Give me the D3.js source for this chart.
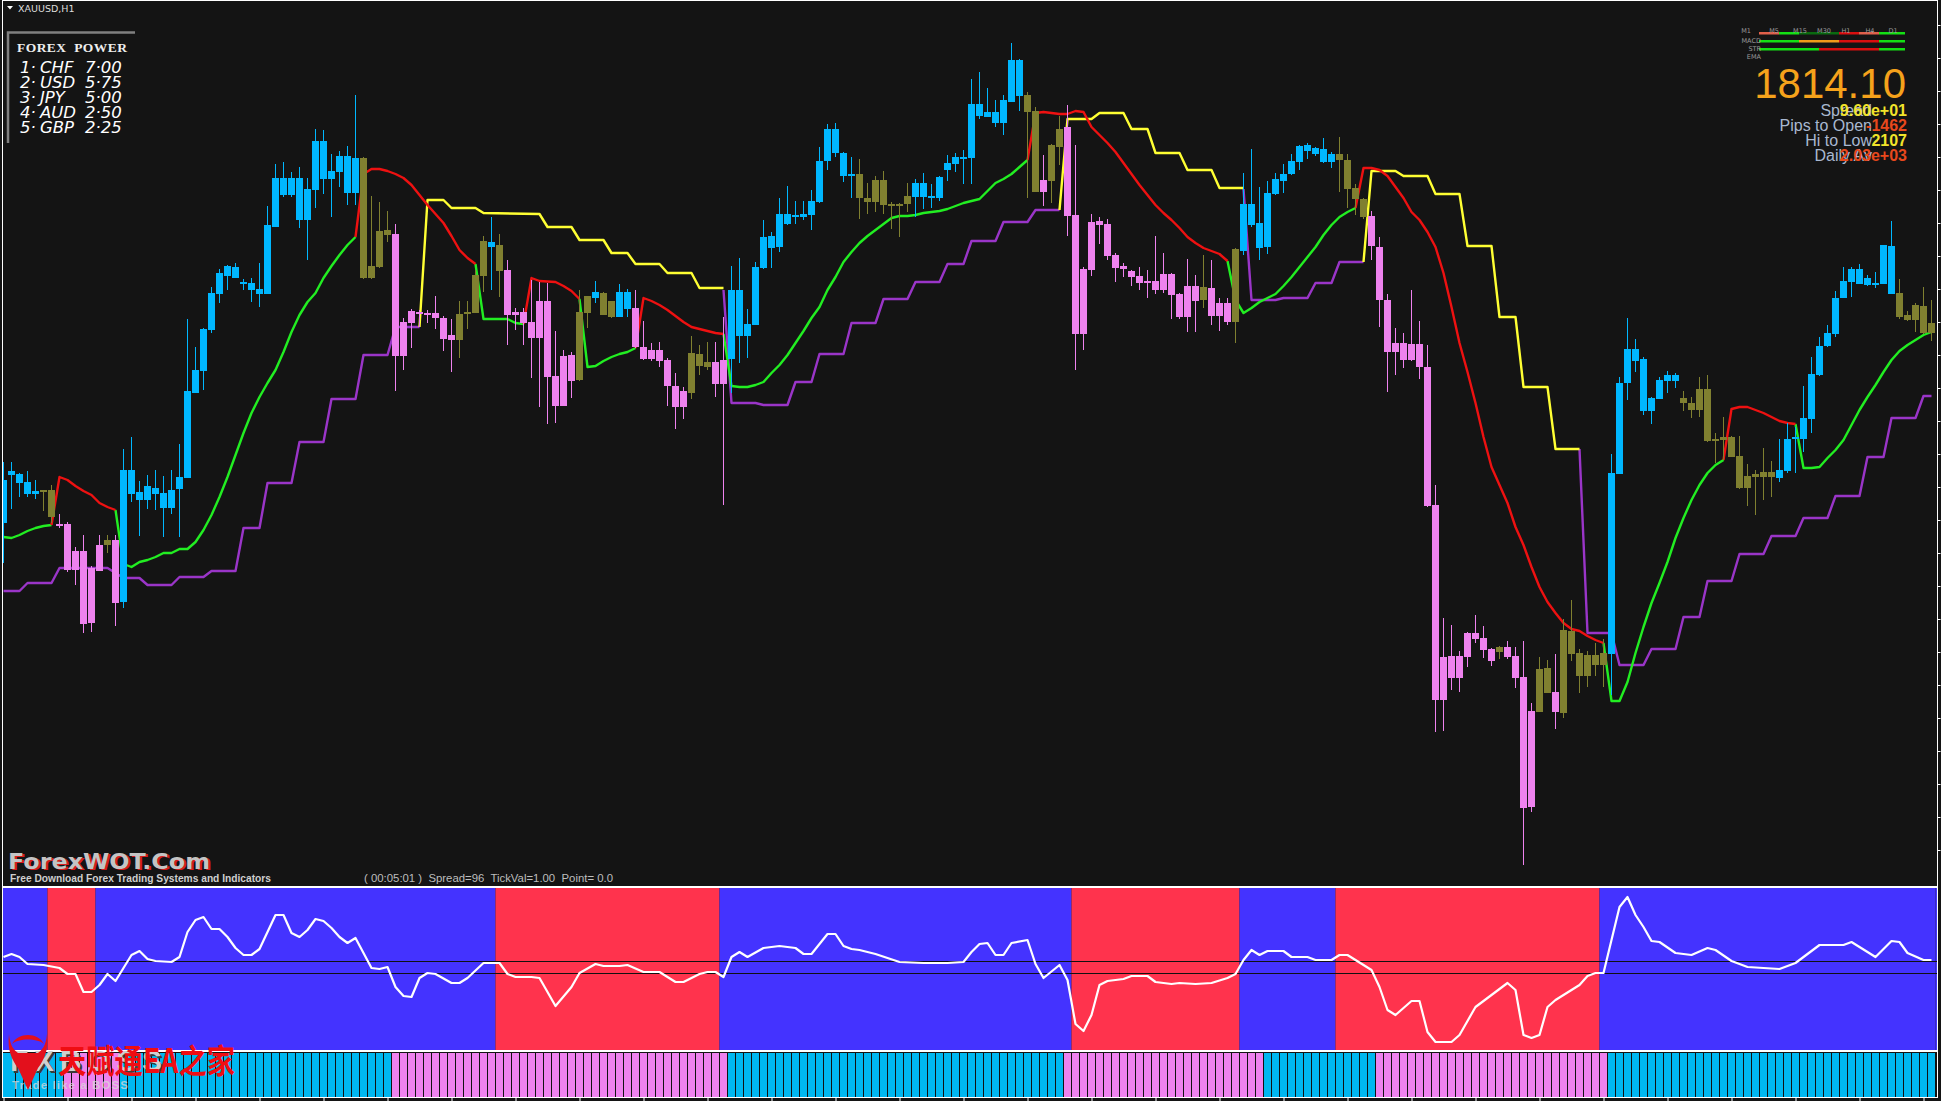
<!DOCTYPE html>
<html lang="en">
<head>
<meta charset="UTF-8">
<title>XAUUSD,H1</title>
<script src="https://d3js.org/d3.v7.min.js"></script>
<style>
  html, body { margin: 0; padding: 0; background: #141414; overflow: hidden; }
  svg { display: block; }
  .sans { font-family: "Liberation Sans", Arial, sans-serif; }
</style>
</head>
<body>
<div id="chart"></div>
<script>
// candle prices, one value per hourly bar
const bodyTop = [
1799,1799.9,1799.6,1798.8,1797.9,1798,1798,1794.6,1794.6,1791.9,
1791.9,1790.2,1792.5,1793,1793,1800,1800,1797.8,1798.4,1798.2,
1797.7,1798,1799.3,1807.9,1810,1814.1,1817.7,1819.7,1820.4,1820.3,
1818.8,1818.7,1818.1,1824.5,1829.2,1829.2,1829.2,1829.2,1828.1,1832.9,
1832.9,1829.9,1831.4,1831.4,1831.2,1831.2,1820.4,1823.9,1824,1823.6,
1814.8,1815.9,1815.8,1815.7,1815.7,1815.2,1813.5,1815.6,1815.8,1819.5,
1822.9,1822.8,1822.5,1820,1815.8,1815.8,1814.8,1816.9,1816.9,1809.4,
1811.4,1811.5,1815.8,1817.4,1817.8,1817.7,1816.9,1817.8,1817.8,1816.2,
1812.3,1812,1812,1811,1808.4,1807.9,1811.7,1811.6,1810.8,1810.8,
1811,1818,1818,1814.6,1820.3,1823.3,1823.4,1825.6,1825.6,1825.5,
1825.6,1826.9,1830.9,1834.1,1834.1,1831.7,1829.6,1829.6,1827.2,1829,
1829,1826.6,1826.6,1827.4,1828.7,1828.7,1827.4,1829.3,1830.7,1831.3,
1831.3,1836.6,1836.6,1835.8,1835.8,1837,1841,1841,1837.5,1835.9,
1829,1832.5,1834.1,1834.3,1825.5,1820.1,1824.8,1824.9,1824.6,1821.5,
1820.4,1819.9,1819.4,1818.9,1818.9,1819.6,1819.6,1817.6,1818.4,1818.4,
1818.3,1818.2,1816.7,1816.7,1822.1,1826.6,1826.6,1824.7,1827.7,1829.1,
1829.6,1830.9,1832.4,1832.5,1832.2,1832.1,1831.6,1831.6,1831,1828.2,
1827.1,1825.4,1822.3,1817,1812.7,1812.7,1812.6,1812.6,1810.3,1796.5,
1781.3,1781.4,1781.4,1783.7,1783.7,1783.2,1782.1,1782.3,1782.3,1781.4,
1779.3,1775.9,1780.1,1780.2,1777.8,1784,1783.9,1781.7,1781.5,1781.5,
1781.7,1799.7,1808.7,1812.1,1812.1,1811.1,1807.2,1809,1809.5,1809.5,
1807.2,1806.7,1808.1,1808.1,1803.1,1803.3,1803.3,1801.4,1799.4,1799.6,
1799.8,1799.8,1800,1803.1,1803.3,1805.2,1809.6,1812.4,1813.7,1817.2,
1818.9,1820.1,1820.1,1819.2,1818.7,1822.5,1822.4,1817.7,1815.5,1816.5,
1816.4,1814.7];

const bodyBottom = [
1794.7,1799.5,1798.7,1797.6,1797.6,1797.8,1795.3,1794.5,1790,1790,
1784.6,1784.7,1789.9,1792.5,1786.7,1786.8,1797.6,1797,1797,1797.6,
1796.2,1796.2,1798.1,1799.2,1807.7,1809.9,1814,1817.6,1819.4,1819.2,
1818.6,1818,1817.6,1817.6,1824.3,1827.5,1827.5,1825,1825,1828,
1829.1,1829.1,1829.8,1827.7,1827.7,1819.2,1819.2,1820.3,1823.5,1811.4,
1811.4,1814.7,1815.6,1815.5,1815.2,1813.1,1813,1813,1815.6,1815.7,
1819.4,1822.3,1819.9,1815.5,1815.5,1814.7,1813.2,1813.2,1809.3,1806.4,
1806.4,1808.9,1809,1815.7,1817.2,1815.5,1815.3,1815.3,1816.1,1812.3,
1811.1,1811.1,1810.9,1808.4,1806.3,1806.3,1807.7,1810.4,1810.3,1808.6,
1808.6,1811.1,1813.4,1813.4,1814.5,1820.2,1822.2,1822.3,1824.6,1825.3,
1825.3,1825.5,1826.8,1830.9,1831.7,1829.4,1829.4,1827.2,1826.8,1826.8,
1826.5,1826.5,1826.5,1826.6,1827.3,1827.3,1827.2,1827.2,1830,1830.6,
1831.2,1831.2,1835.4,1835.3,1834.7,1834.7,1836.8,1837.4,1835.8,1827.8,
1827.8,1828.9,1832.3,1825.4,1813.6,1813.6,1820,1824.5,1821.4,1820.2,
1820.1,1819.3,1818.7,1818.8,1818,1818,1817.5,1815.3,1815.3,1816.9,
1817,1815.4,1815.4,1814.8,1814.8,1821.9,1824.5,1822.2,1822.3,1827.6,
1828.9,1829.6,1830.8,1831.9,1831.6,1830.8,1830.8,1831,1828.1,1827.1,
1825.3,1822.4,1817,1811.8,1811.8,1811,1811,1810.3,1796.4,1777,
1777,1779.2,1779.2,1781.3,1783.1,1782,1780.9,1781.8,1781.3,1779.2,
1766.2,1766.3,1775.8,1777.7,1775.8,1775.7,1781.6,1779.4,1779.4,1780.5,
1780.5,1781.6,1799.6,1808.7,1810.9,1805.9,1805.9,1807.1,1808.9,1808.9,
1806.7,1806,1806,1802.9,1802.9,1803,1801.3,1798.2,1798.2,1799.3,
1799.3,1799.3,1799.2,1799.9,1803.1,1803.1,1805.1,1809.5,1812.4,1813.6,
1817.2,1818.8,1818.6,1818.5,1818.6,1818.6,1817.6,1815.3,1815,1815,
1813.7,1813.7];

const wickHigh = [
1800.8,1800.8,1799.7,1799.9,1799,1798,1798.5,1795.6,1794.8,1792.3,
1793.5,1790.4,1793.5,1793.5,1793.5,1802.1,1803.3,1798.9,1799.5,1800,
1799.4,1800,1802.6,1815.1,1812.3,1814.2,1818.3,1820.1,1820.5,1820.7,
1819.1,1819.2,1820.7,1826.4,1830.6,1830.8,1829.8,1830.3,1829.2,1834.1,
1834,1831.6,1831.9,1832.4,1837.5,1831.3,1827.4,1826.8,1825.9,1824.6,
1815.2,1816.1,1816,1816,1817.4,1815.4,1815.1,1816.9,1816.9,1820,
1823.4,1825.3,1823.6,1821,1816.2,1816.2,1819,1818.8,1818.7,1813.9,
1812,1811.8,1818,1817.4,1818.9,1817.8,1816.9,1818.6,1818.1,1818,
1814.9,1812.7,1812.8,1811.2,1809.7,1808.3,1813.4,1812.5,1812.8,1812.8,
1815.3,1820.4,1821.2,1816.1,1820.8,1825,1823.8,1827.2,1828.4,1826.9,
1826.9,1828,1832.3,1834.6,1834.7,1831.8,1831.3,1831.1,1828.7,1829.4,
1829.9,1826.8,1826.7,1828.7,1829.1,1829.7,1828.6,1829.4,1831.5,1831.7,
1832,1839.1,1839.8,1838.2,1837,1837.5,1842.7,1841.1,1837.8,1836.3,
1831.5,1832.6,1835.4,1836.5,1832.5,1820.3,1825.6,1825.3,1825.1,1821.7,
1820.7,1820,1820.3,1820,1823.4,1821.7,1819.7,1817.7,1821.1,1819.5,
1821.5,1821,1817.2,1817.2,1822.2,1829.7,1832.1,1828.3,1828.9,1829.7,
1830.6,1831.6,1832.5,1832.7,1832.3,1833.2,1831.8,1833.3,1831.6,1828.6,
1827.2,1825.9,1823.3,1817.6,1814.2,1813.7,1818,1814.9,1812.5,1798.5,
1785.2,1784.5,1781.9,1783.8,1785.5,1784.4,1782.2,1782.4,1782.9,1782.3,
1782.9,1776.7,1781.3,1781,1781.6,1785.1,1787,1782.1,1781.9,1782.7,
1783.1,1801.6,1809.3,1815.2,1813.1,1811.3,1807.3,1809.3,1809.9,1809.7,
1807.9,1807.3,1809.3,1809.5,1803.7,1805.3,1803.4,1803.4,1800.6,1800,
1802.2,1800.9,1803.1,1804.7,1804.3,1808.4,1811.3,1813.3,1814.5,1817.9,
1820.3,1820.3,1820.6,1819.5,1819.8,1822.5,1824.9,1819.1,1815.9,1816.7,
1818.3,1817];

const wickLow = [
1790.7,1796.1,1797.3,1797.3,1797.1,1795.9,1794.7,1794.2,1789.8,1788.5,
1783.7,1783.8,1789.9,1791.7,1784.4,1786.2,1796.8,1793.4,1796.1,1796,
1793.3,1795.6,1793.3,1799.2,1807.7,1808,1813.7,1816.7,1818,1819.2,
1818,1816.8,1816.3,1817.6,1824.3,1827.3,1827.3,1824.2,1821,1826.2,
1827.6,1825.3,1828.3,1826.5,1826.5,1819.1,1819.1,1820.2,1822.8,1807.9,
1810,1812.2,1814.3,1814.7,1814.1,1811.9,1809.8,1811.2,1814.1,1815.7,
1817.8,1818,1817.3,1812.5,1814,1812.5,1809.2,1806.3,1804.6,1804.7,
1806.4,1807.2,1808.9,1814.2,1816.7,1815.5,1815.2,1815.3,1815.3,1812.2,
1811,1810.9,1810.3,1806.4,1804.1,1805.1,1807.1,1809.5,1810,1807.3,
1796.5,1807.7,1810.7,1811.2,1814.5,1820.1,1820.2,1821.8,1824.5,1824.6,
1825,1824,1826.7,1830,1831.3,1828.8,1827.2,1825.1,1825.6,1825.8,
1825.6,1824.1,1823.3,1825.8,1825.3,1826.1,1826.2,1826.9,1828.9,1829.8,
1828.6,1828.6,1835.1,1835.3,1834.3,1833.5,1836.8,1835.9,1827.2,1827.8,
1826.4,1826.7,1830.5,1823.4,1810,1812,1819.4,1822.6,1821,1818.8,
1819.3,1818.4,1818,1817.2,1817.6,1817.7,1815.1,1815.1,1813.8,1813.8,
1816.2,1814.5,1813.9,1814.5,1812.7,1821.5,1824.3,1821,1821.6,1827.5,
1827.7,1829.5,1830,1831.1,1831.4,1830.7,1830.2,1827.8,1826.2,1825.5,
1825.1,1821,1814.3,1807.8,1809.5,1810.2,1810.9,1809.1,1796.3,1773.8,
1773.9,1778,1777.8,1780.3,1782.7,1781.2,1780.4,1781.1,1781.1,1778.2,
1760.5,1765.8,1775.8,1777.7,1774.1,1775.2,1780.9,1777.7,1778.3,1779.4,
1778.3,1777.5,1799.6,1807,1809.8,1805.5,1804.6,1807.1,1807.7,1808.2,
1805.9,1805.2,1805.3,1802.8,1800.7,1801,1801.3,1798.1,1796.4,1795.5,
1797,1797.3,1798.8,1799.7,1799.7,1801.8,1803.7,1809.4,1812.3,1813.3,
1817.2,1817.3,1818.6,1818.4,1818.2,1818.6,1817.6,1815.1,1814.9,1813.8,
1813.6,1812.9];

// which bar each candle colour starts on
const candleRunStart = [0,5,7,13,14,15,45,49,57,61,62,63,72,74,75,77,79,86,89,91,107,114,128,130,131,133,150,151,154,155,167,171,187,188,192,194,195,201,210,222,237];
const candleRunKind = ["up","flat","down","flat","down","up","flat","down","flat","up","flat","down","flat","up","flat","up","down","flat","down","up","flat","up","flat","down","flat","down","flat","down","flat","up","flat","down","flat","down","flat","down","flat","up","flat","up","flat"];

// moving average, one list per stretch of colour: [bar, price]
const emaUpSegments = [
  [[0,1793.3],[1,1793.2],[2,1793.5],[3,1793.9],[4,1794.2],[5,1794.4],[6,1794.5]],
  [[14,1796],[15,1790.6],[16,1790.3],[17,1790.8],[18,1791],[19,1791.3],[20,1791.7],[21,1791.7],[22,1792.1],[23,1792.1],[24,1792.8],[25,1794],[26,1795.5],[27,1797.3],[28,1799.3],[29,1801.5],[30,1803.7],[31,1805.7],[32,1807.3],[33,1808.7],[34,1810],[35,1811.8],[36,1813.8],[37,1815.5],[38,1816.8],[39,1817.7],[40,1819.2],[41,1820.4],[42,1821.5],[43,1822.5],[44,1823.3]],
  [[59,1820.6],[60,1815.1],[63,1815.1],[64,1814.7],[65,1814.6]],
  [[72,1817.1],[73,1810.3],[74,1810.4],[75,1810.9],[76,1811.3],[77,1811.6],[78,1811.8],[79,1812.2]],
  [[90,1813.6],[91,1808.4],[92,1808.3],[93,1808.3],[94,1808.5],[95,1808.8],[96,1809.7],[97,1810.5],[98,1811.5],[99,1812.7],[100,1813.9],[101,1815.2],[102,1816.3],[103,1818],[104,1819.3],[105,1820.8],[106,1821.8],[107,1822.7],[108,1823.4],[109,1824],[110,1824.6],[111,1825.2],[112,1825.4],[113,1825.4],[114,1825.5],[115,1825.7],[116,1825.8],[117,1825.9],[118,1826.1],[119,1826.4],[120,1826.7],[121,1826.9],[122,1827.1],[123,1827.9],[124,1828.7],[125,1829.1],[126,1829.6],[127,1830.3],[128,1831]],
  [[153,1820.9],[154,1817],[155,1815.7],[156,1816.2],[157,1816.8],[158,1817.2],[159,1817.6],[160,1818.4],[161,1819.3],[162,1820.3],[163,1821.3],[164,1822.3],[165,1823.5],[166,1824.5],[167,1825.3],[168,1825.8],[169,1826.2]],
  [[200,1782.7],[201,1776.9],[202,1776.9],[203,1778.8],[204,1781.7],[205,1784.3],[206,1786.7],[207,1788.7],[208,1790.8],[209,1793.2],[210,1795.2],[211,1797],[212,1798.5],[213,1799.7],[214,1800.5],[215,1801]],
  [[224,1804.6],[225,1800.2],[226,1800.2],[227,1800.3],[228,1801.2],[229,1802],[230,1803],[231,1804.5],[232,1806],[233,1807.3],[234,1808.5],[235,1809.8],[236,1811],[237,1811.9],[238,1812.5],[239,1813],[240,1813.5],[241,1813.8]]
];
const emaDownSegments = [
  [[6,1794.5],[7,1799.3],[8,1799],[9,1798.4],[10,1797.9],[11,1797.5],[12,1796.7],[13,1796.3],[14,1796]],
  [[44,1823.3],[45,1829.6],[46,1830.1],[47,1830.1],[48,1829.9],[49,1829.6],[50,1829.2],[51,1828.5],[52,1827.5],[53,1826.5],[54,1825.6],[55,1824.7],[56,1823.4],[57,1822],[58,1821.2],[59,1820.6]],
  [[65,1814.6],[66,1819.2],[67,1818.9],[69,1818.8],[70,1818.4],[71,1817.9],[72,1817.1]],
  [[79,1812.2],[80,1817.2],[81,1816.9],[82,1816.5],[83,1816],[84,1815.4],[85,1814.8],[86,1814.3],[87,1814.1],[88,1813.9],[89,1813.7],[90,1813.6]],
  [[128,1831],[129,1835.7],[130,1835.8],[131,1835.7],[132,1835.6],[133,1835.6],[134,1835.9],[135,1835.8],[136,1834.3],[137,1833.5],[138,1832.7],[139,1831.8],[140,1830.7],[141,1829.6],[142,1828.5],[143,1827.5],[144,1826.5],[145,1825.7],[146,1825],[147,1824.2],[148,1823.3],[149,1822.7],[150,1822.2],[151,1821.9],[152,1821.6],[153,1820.9]],
  [[169,1826.2],[170,1830.2],[171,1830.2],[172,1830],[173,1829.4],[174,1828.3],[175,1827.2],[176,1825.8],[177,1825],[178,1823.8],[179,1822.3],[180,1819.7],[181,1816.3],[182,1812.7],[183,1809.8],[184,1806.7],[185,1803.3],[186,1800.3],[187,1798.5],[188,1796.7],[189,1794.3],[190,1792.5],[191,1790.3],[192,1788.3],[193,1786.8],[194,1785.7],[195,1784.7],[196,1784.1],[197,1783.9],[198,1783.4],[199,1783],[200,1782.7]],
  [[215,1801],[216,1806.1],[217,1806.3],[218,1806.3],[219,1806],[220,1805.7],[221,1805.3],[222,1804.9],[223,1804.7],[224,1804.6]]
];

// stepped stop line
const stopSupportSegments = [
  [[0,1787.9],[2,1787.9],[3,1788.7],[6,1788.7],[7,1790.2],[13,1790.2],[15,1789.2],[17,1789.2],[18,1788.5],[21,1788.5],[22,1789.3],[25,1789.3],[26,1789.9],[29,1789.9],[30,1794.2],[32,1794.2],[33,1798.7],[36,1798.7],[37,1802.8],[40,1802.8],[41,1807.1],[44,1807.1],[45,1811.5],[48,1811.5],[49,1814.3],[52,1814.3]],
  [[90,1818],[91,1806.7],[94,1806.7],[95,1806.5],[98,1806.5],[99,1808.8],[101,1808.8],[102,1811.6],[105,1811.6],[106,1814.7],[109,1814.7],[110,1817.1],[113,1817.1],[114,1818.8],[117,1818.8],[118,1820.6],[120,1820.6],[121,1822.9],[124,1822.9],[125,1824.8],[128,1824.8],[129,1826],[132,1826]],
  [[155,1828.1],[156,1817],[159,1817],[160,1817.2],[163,1817.2],[164,1818.7],[166,1818.7],[167,1820.8],[170,1820.8]],
  [[197,1802.1],[198,1783.7],[201,1783.7],[202,1780.5],[205,1780.5],[206,1782.1],[209,1782.1],[210,1785.3],[212,1785.3],[213,1788.9],[216,1788.9],[217,1791.6],[220,1791.6],[221,1793.4],[224,1793.4],[225,1795.2],[228,1795.2],[229,1797.4],[232,1797.4],[233,1801.3],[235,1801.3],[236,1805.2],[239,1805.2],[240,1807.4],[241,1807.4]]
];
const stopResistSegments = [
  [[52,1814.3],[53,1827],[55,1827],[56,1826.2],[59,1826.2],[60,1825.7],[67,1825.6],[68,1824.3],[71,1824.3],[72,1823],[75,1823],[76,1821.7],[78,1821.7],[79,1820.6],[82,1820.6],[83,1819.7],[86,1819.7],[87,1818.2],[90,1818.2]],
  [[132,1826],[133,1835.1],[136,1835.1],[137,1835.7],[140,1835.7],[141,1834.1],[143,1834.1],[144,1831.7],[147,1831.7],[148,1830],[151,1830],[152,1828.2],[155,1828.2]],
  [[170,1820.8],[171,1829.9],[174,1829.9],[175,1829.4],[178,1829.4],[179,1827.6],[182,1827.6],[183,1822.4],[186,1822.4],[187,1815.3],[189,1815.3],[190,1808.3],[193,1808.3],[194,1802.1],[197,1802.1]]
];

// oscillator panel
const oscBars = [0,1,2,3,5,7,8,9,10,11,12,13,14,16,17,18,19,21,22,23,24,25,26,27,28,29,30,31,32,34,35,36,37,38,39,40,41,42,43,44,45,46,47,48,49,50,51,52,53,54,56,57,58,60,62,63,64,66,67,69,71,72,74,75,77,78,80,82,84,85,87,88,89,90,91,92,93,95,97,99,100,101,103,104,105,106,107,109,112,115,118,120,121,122,123,124,125,126,128,129,130,132,133,134,135,136,137,138,140,141,143,144,146,147,149,151,153,154,155,156,157,158,160,161,163,164,166,167,168,171,172,173,174,176,177,178,179,181,182,184,185,188,189,190,191,192,193,194,197,198,199,200,202,203,204,205,206,207,209,211,213,214,216,218,220,222,224,227,230,231,234,236,237,238,240,241];
const oscValues = [10,13,10,3,2,-1,-7,-7,-25,-25,-18,-7,-14,12,16,8,6,5,10,35,47,50,38,38,30,19,12,12,18,52,52,34,30,37,48,46,39,30,24,29,14,-1,-2,0,-20,-29,-30,-11,-6,-7,-16,-16,-11,4,4,-7,-10,-10,-11,-39,-20,-6,3,1,1,2,-5,-5,-15,-15,-7,-5,-5,-10,10,15,10,19,21,19,13,13,33,33,21,18,17,13,5,4,4,5,15,23,24,12,12,24,27,3,-11,2,-13,-57,-64,-48,-18,-14,-12,-9,-9,-15,-17,-16,-17,-16,-11,-7,7,17,12,16,16,10,10,7,7,12,12,-3,-20,-43,-48,-34,-34,-65,-75,-75,-68,-40,-34,-16,-23,-68,-71,-68,-40,-33,-18,-9,-6,-6,60,70,52,40,26,25,14,12,19,17,6,0,-1,-2,4,22,22,25,10,26,25,14,7,7];
const oscLevels = [6, -6];
const bandRunStart = [0,6,12,62,90,134,155,167,200];
const bandRunKind = ["up","down","up","down","up","down","up","down","up"];

// strength histogram strip
const stripRunStart = [0,8,15,49,91,133,158,172,201];
const stripRunKind = ["up","down","up","down","up","down","up","down","up"];

// text blocks
const powerRank = ["1·","2·","3·","4·","5·"];
const powerCurrency = ["CHF","USD","JPY","AUD","GBP"];
const powerValue = ["7·00","5·75","5·00","2·50","2·25"];
const timeframes = ["M1","M5","M15","M30","H1","H4","D1"];
const signalNames = ["MACD","STR","EMA"];
const macdCells = ["up","up","warn","warn","down","down","up"];
const strCells = ["up","up","up","down","down","down","up"];
const tfCells = ["soft","up","dark","dark","down","soft","up"];
const infoLabels = ["Spread","Pips to Open","Hi to Low","Daily Av"];
const infoValues = ["9.60e+01","-1462","2107","2.03e+03"];
const infoColors = ["#f2e32a","#e8481c","#f2e32a","#e8481c"];

const width = 1941, height = 1101;
const barCount = bodyTop.length;
const mainBottom = 886, oscTop = 888, oscBottom = 1050, stripTop = 1053, stripBottom = 1097, frameRight = 1937;

const candleColor = { up: "#00b7ff", down: "#ee82ee", flat: "#808030" };
const bandColor = { up: "#4433ff", down: "#ff334d" };
const stripColor = { up: "#00b7f0", down: "#ee82ee" };
const cellColor = { up: "#14e014", down: "#d80f0f", soft: "#e0604a", dark: "#0a6a10", warn: "#f09a1a" };

function kindAt(starts, kinds, i) {
  return kinds[d3.bisectRight(starts, i) - 1];
}

const x = d3.scaleLinear().domain([0, barCount - 1]).range([3.5, 3.5 + 8 * (barCount - 1)]);
const y = d3.scaleLinear().domain([1847, 1847 - 110.1]).range([0, 1101]);
const yOsc = d3.scaleLinear().domain([-82, 79]).range([1049, 888]);

const svg = d3.select("#chart").append("svg").attr("width", width).attr("height", height);
svg.append("rect").attr("width", width).attr("height", height).attr("fill", "#141414");

svg.append("clipPath").attr("id", "mainClip").append("rect")
  .attr("x", 3).attr("y", 1).attr("width", frameRight - 3).attr("height", mainBottom - 1);

const main = svg.append("g").attr("clip-path", "url(#mainClip)");

// indicator lines sit under the candles
const line = d3.line().x(d => x(d[0])).y(d => y(d[1]));
function drawSegments(segments, color) {
  main.append("g").selectAll("path").data(segments).join("path")
    .attr("d", line).attr("fill", "none").attr("stroke", color).attr("stroke-width", 2.4)
    .attr("stroke-linejoin", "round");
}
drawSegments(stopSupportSegments, "#9a35c8");
drawSegments(stopResistSegments, "#ffff33");
drawSegments(emaUpSegments, "#22ee22");
drawSegments(emaDownSegments, "#ee1111");

const bars = d3.range(barCount);
const colorOf = i => candleColor[kindAt(candleRunStart, candleRunKind, i)];

main.append("g").selectAll("line").data(bars).join("line")
  .attr("x1", i => x(i)).attr("x2", i => x(i))
  .attr("y1", i => y(wickHigh[i])).attr("y2", i => y(wickLow[i]))
  .attr("stroke", colorOf).attr("stroke-width", 1);

main.append("g").selectAll("rect").data(bars).join("rect")
  .attr("x", i => x(i) - 3.5).attr("width", 7)
  .attr("y", i => y(bodyTop[i]))
  .attr("height", i => Math.max(2, y(bodyBottom[i]) - y(bodyTop[i])))
  .attr("fill", colorOf);

// oscillator panel
const bandEnd = bandRunStart.slice(1).concat([barCount]);
svg.append("g").selectAll("rect").data(bandRunStart).join("rect")
  .attr("x", d => Math.max(3, x(d) - 4))
  .attr("width", (d, i) => Math.min(frameRight, x(bandEnd[i]) - 4) - Math.max(3, x(d) - 4))
  .attr("y", oscTop).attr("height", oscBottom - oscTop)
  .attr("fill", (d, i) => bandColor[bandRunKind[i]]);
// last band runs on to the frame
svg.append("rect").attr("x", x(barCount - 1) + 4).attr("width", frameRight - x(barCount - 1) - 4)
  .attr("y", oscTop).attr("height", oscBottom - oscTop).attr("fill", bandColor.up);

svg.append("g").selectAll("line").data(oscLevels).join("line")
  .attr("x1", 3).attr("x2", frameRight)
  .attr("y1", d => Math.round(yOsc(d)) + 0.5).attr("y2", d => Math.round(yOsc(d)) + 0.5)
  .attr("stroke", "#111").attr("stroke-width", 1);

svg.append("path")
  .attr("d", d3.line().x(d => x(d)).y((d, i) => yOsc(oscValues[i]))(oscBars))
  .attr("fill", "none").attr("stroke", "#fff").attr("stroke-width", 2.2).attr("stroke-linejoin", "round");

// strip under the oscillator
svg.append("rect").attr("x", 3).attr("y", stripTop).attr("width", frameRight - 3)
  .attr("height", stripBottom - stripTop).attr("fill", "#111");
svg.append("g").selectAll("rect").data(bars).join("rect")
  .attr("x", i => Math.max(3, x(i) - 3.5)).attr("width", 7)
  .attr("y", stripTop).attr("height", stripBottom - stripTop)
  .attr("fill", i => stripColor[kindAt(stripRunStart, stripRunKind, i)]);

// frames and axes
const frame = svg.append("g").attr("stroke", "#fff").attr("stroke-width", 1).attr("fill", "none");
frame.append("rect").attr("x", 2.5).attr("y", 0.5).attr("width", frameRight - 2).attr("height", mainBottom);
frame.append("rect").attr("x", 2.5).attr("y", oscTop - 0.5).attr("width", frameRight - 2).attr("height", oscBottom - oscTop + 1);
frame.append("rect").attr("x", 2.5).attr("y", stripTop - 1.5).attr("width", frameRight - 2).attr("height", stripBottom - stripTop + 2);

const priceTicks = d3.range(0, 26).map(k => 1844.5 - 3.3 * k);
const yAxis = svg.append("g").attr("transform", `translate(${frameRight + 0.5},0)`)
  .call(d3.axisRight(y).tickValues(priceTicks).tickSize(3).tickFormat(""));
const xAxis = svg.append("g").attr("transform", `translate(0,${stripBottom + 0.5})`)
  .call(d3.axisBottom(x).tickValues(d3.range(0, barCount, 8)).tickSize(4).tickFormat(""));
[yAxis, xAxis].forEach(a => {
  a.select(".domain").remove();
  a.selectAll("line").attr("stroke", "#fff");
});

// symbol label
svg.append("path").attr("d", "M7,6 L13,6 L10,9.5 Z").attr("fill", "#fff");
svg.append("text").attr("x", 18).attr("y", 12)
  .attr("font-family", "'DejaVu Sans', sans-serif").attr("font-size", 9.5).attr("fill", "#ddd").text("XAUUSD,H1");

// forex power box
const box = svg.append("g");
box.append("path").attr("d", "M8,143 L8,32.5 L135,32.5").attr("fill", "none").attr("stroke", "#808080").attr("stroke-width", 2.5);
box.append("text").attr("x", 17).attr("y", 52)
  .attr("font-family", "'Liberation Serif', serif").attr("font-weight", "bold").attr("font-size", 13.5)
  .attr("fill", "#eee").attr("textLength", 110).attr("xml:space", "preserve").text("FOREX  POWER");
const powerRow = box.selectAll("g").data(powerCurrency).join("g")
  .attr("transform", (d, i) => `translate(0,${73 + i * 15})`)
  .attr("font-family", "'DejaVu Sans', sans-serif").attr("font-style", "italic").attr("font-size", 16.5).attr("fill", "#fff");
powerRow.append("text").attr("x", 20).text((d, i) => powerRank[i]);
powerRow.append("text").attr("x", 40).text(d => d);
powerRow.append("text").attr("x", 85).text((d, i) => powerValue[i]);

// multi timeframe signal block
const cellX = d3.scaleLinear().domain([0, 6, 7]).range([1759, 1879, 1905]);
const tfLabelX = [1746, 1774, 1800, 1824, 1846, 1870, 1893];
const signal = svg.append("g");
[tfCells, macdCells, strCells].forEach((cells, row) => {
  signal.append("g").selectAll("rect").data(cells).join("rect")
    .attr("x", (d, i) => cellX(i)).attr("width", (d, i) => cellX(i + 1) - cellX(i))
    .attr("y", 32 + row * 8).attr("height", 2.5)
    .attr("fill", d => cellColor[d]);
});
signal.append("g").selectAll("text").data(timeframes).join("text")
  .attr("x", (d, i) => tfLabelX[i]).attr("y", 33).attr("text-anchor", "middle")
  .attr("font-family", "'DejaVu Sans', sans-serif").attr("font-size", 6.5).attr("fill", "#9a9a9a").text(d => d);
signal.append("g").selectAll("text").data(signalNames).join("text")
  .attr("x", 1761).attr("y", (d, i) => 43 + i * 8).attr("text-anchor", "end")
  .attr("font-family", "'DejaVu Sans', sans-serif").attr("font-size", 6.5).attr("fill", "#9a9a9a").text(d => d);

// price and stats
svg.append("text").attr("class", "sans").attr("x", 1906).attr("y", 98).attr("text-anchor", "end")
  .attr("font-size", 42).attr("fill", "#f5a21b").text("1814.10");
svg.append("g").selectAll("text").data(infoLabels).join("text").attr("class", "sans")
  .attr("x", 1872).attr("y", (d, i) => 116 + i * 15).attr("text-anchor", "end")
  .attr("font-size", 16).attr("fill", "#a9b8d0").text(d => d);
svg.append("g").selectAll("text").data(infoValues).join("text").attr("class", "sans")
  .attr("x", 1907).attr("y", (d, i) => 116 + i * 15).attr("text-anchor", "end")
  .attr("font-size", 16).attr("font-weight", "bold").attr("fill", (d, i) => infoColors[i]).text(d => d);

// site logo and status line
svg.append("text").attr("x", 10).attr("y", 870).attr("font-family", "'DejaVu Sans', sans-serif")
  .attr("font-weight", "bold").attr("font-size", 22).attr("fill", "#d81c1c")
  .attr("textLength", 202).attr("lengthAdjust", "spacingAndGlyphs").text("ForexWOT.Com");
svg.append("text").attr("x", 8).attr("y", 869).attr("font-family", "'DejaVu Sans', sans-serif")
  .attr("font-weight", "bold").attr("font-size", 22).attr("fill", "#c4c4c4")
  .attr("textLength", 202).attr("lengthAdjust", "spacingAndGlyphs").text("ForexWOT.Com");
svg.append("text").attr("class", "sans").attr("x", 10).attr("y", 882).attr("font-weight", "bold")
  .attr("font-size", 10).attr("fill", "#cfcfcf").attr("textLength", 261).attr("lengthAdjust", "spacingAndGlyphs")
  .text("Free Download Forex Trading Systems and Indicators");
svg.append("text").attr("class", "sans").attr("x", 364).attr("y", 882)
  .attr("font-size", 11).attr("fill", "#bdbdbd").attr("textLength", 249).attr("lengthAdjust", "spacingAndGlyphs")
  .attr("xml:space", "preserve").text("( 00:05:01 )  Spread=96  TickVal=1.00  Point= 0.0");

// watermark across the strip
const mark = svg.append("g");
mark.append("text").attr("x", 12).attr("y", 1073).attr("font-family", "'Liberation Sans', sans-serif")
  .attr("font-weight", "bold").attr("font-size", 30).attr("fill", "#3a3a3a").attr("textLength", 152).text("FXBOSS");
mark.append("text").attr("x", 10).attr("y", 1071).attr("font-family", "'Liberation Sans', sans-serif")
  .attr("font-weight", "bold").attr("font-size", 30).attr("fill", "#cfcfcf").attr("textLength", 152).text("FXBOSS");
mark.append("text").attr("class", "sans").attr("x", 12).attr("y", 1089).attr("font-weight", "bold")
  .attr("font-size", 11.5).attr("fill", "#d8d8d8").attr("fill-opacity", 0.75).attr("textLength", 116).text("Trade like a BOSS");
mark.append("path").attr("fill", "#e3101c")
  .attr("d", "M9,1034 C7,1050 12,1060 18,1068 L28,1090 L38,1068 C44,1060 49,1050 47,1034 C46,1046 42,1050 38,1053 L18,1053 C14,1050 10,1046 9,1034 Z");
mark.append("path").attr("fill", "#e3101c")
  .attr("d", "M12,1044 C18,1032 38,1032 44,1044 C38,1038 18,1038 12,1044 Z");
mark.append("text").attr("x", 58).attr("y", 1073).attr("font-family", "'Noto Sans CJK SC', sans-serif")
  .attr("font-weight", "bold").attr("font-size", 33).attr("fill", "#f00d12")
  .attr("textLength", 177).attr("lengthAdjust", "spacingAndGlyphs").text("天赋通EA之家");
</script>
</body>
</html>
